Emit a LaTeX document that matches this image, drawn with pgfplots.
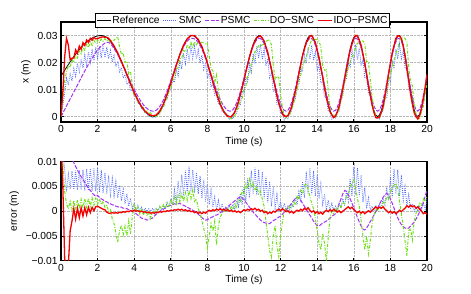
\documentclass[border=0pt]{standalone}
\usepackage{fontspec}
\setmainfont{Liberation Sans}
\usepackage{pgfplots}
\usepackage{pgfplotstable}
\pgfplotsset{compat=1.18}
\definecolor{smcblue}{RGB}{80,105,255}
\definecolor{psmcpurple}{RGB}{165,50,245}
\definecolor{dogreen}{RGB}{110,225,20}
\definecolor{idored}{RGB}{245,0,0}
% position x in mm (1 mm = 0.001 m): t ref smc psmc do ido
\pgfplotstableread{
t ref smc psmc do ido
0.0 15.00 0.00 0.0 0.00 0.0
0.1 16.07 4.07 1.3 6.07 9.0
0.2 17.13 8.63 2.6 13.13 22.0
0.3 18.19 14.19 3.9 16.69 29.0
0.4 19.23 11.73 5.2 18.73 26.5
0.5 20.24 15.74 6.5 18.24 21.0
0.6 21.23 13.13 7.8 21.03 21.6
0.7 22.19 17.79 9.1 19.99 21.69
0.8 23.11 14.91 10.4 22.81 24.71
0.9 23.99 19.69 11.7 21.69 23.39
1.0 24.82 16.52 13.0 24.32 26.12
1.1 25.61 21.31 14.3 23.21 24.91
1.2 26.34 17.94 15.6 25.74 27.34
1.3 27.01 22.81 16.9 24.51 26.31
1.4 27.62 19.12 18.1 26.82 28.32
1.5 28.17 23.97 19.3 25.57 27.37
1.6 28.64 20.04 20.5 27.64 28.94
1.7 29.05 24.95 21.6 26.35 28.25
1.8 29.39 20.69 22.7 28.19 29.29
1.9 29.66 25.66 23.7 27.06 28.76
2.0 29.85 21.05 24.6 28.45 28.85
2.1 29.96 26.06 25.4 27.46 29.16
2.2 30.00 21.70 26.1 28.70 29.40
2.3 29.91 26.21 26.7 27.91 29.51
2.4 29.64 21.84 27.2 28.84 29.34
2.5 29.19 25.69 27.5 27.99 29.39
2.6 28.57 21.37 27.5 28.57 28.97
2.7 27.78 24.48 27.0 27.48 28.18
2.8 26.83 20.23 26.15 28.33 27.13
2.9 25.75 22.65 25.18 28.25 26.15
3.0 24.54 18.54 24.09 29.04 24.84
3.1 23.21 20.51 22.89 29.51 23.61
3.2 21.77 16.57 21.59 25.77 21.97
3.3 20.26 18.16 20.23 23.06 20.56
3.4 18.68 14.28 18.81 23.48 18.78
3.5 17.06 15.56 17.35 20.06 17.26
3.6 15.41 11.91 15.87 20.41 15.41
3.7 13.76 12.76 14.38 15.76 13.86
3.8 12.12 9.52 12.91 16.72 12.02
3.9 10.52 10.02 11.47 11.52 10.52
4.0 8.98 7.38 10.08 7.48 8.78
4.1 7.50 7.30 8.75 7.50 7.50
4.2 6.12 4.92 7.51 5.32 6.02
4.3 4.84 4.74 6.36 5.34 4.94
4.4 3.69 2.89 5.32 3.19 3.69
4.5 2.67 2.67 4.40 3.47 2.87
4.6 1.81 1.21 3.63 1.51 1.91
4.7 1.10 1.10 2.99 2.10 1.40
4.8 0.57 0.07 2.51 0.77 0.77
4.9 0.20 0.20 2.18 1.70 0.60
5.0 0.02 -0.48 2.02 0.02 0.32
5.1 0.04 -0.06 2.04 0.54 0.44
5.2 0.37 -0.23 2.33 -0.23 0.57
5.3 1.02 0.82 2.92 1.02 1.32
5.4 1.97 1.27 3.77 0.97 2.07
5.5 3.21 2.91 4.89 2.81 3.41
5.6 4.71 3.61 6.24 3.41 4.71
5.7 6.44 5.84 7.80 5.84 6.54
5.8 8.35 6.55 9.52 6.75 8.25
5.9 10.41 9.51 11.37 9.41 10.41
6.0 12.57 10.07 13.31 10.37 12.37
6.1 14.78 13.48 15.30 13.58 14.68
6.2 17.00 12.70 17.30 14.20 16.70
6.3 19.17 17.27 19.25 17.67 18.97
6.4 21.25 15.15 21.13 18.05 20.85
6.5 23.20 20.70 22.88 21.40 23.00
6.6 24.96 17.56 24.46 21.46 24.56
6.7 26.51 23.41 25.86 24.51 26.41
6.8 27.80 19.60 27.02 24.00 27.50
6.9 28.82 25.02 27.94 26.62 28.82
7.0 29.53 20.53 28.58 25.33 29.33
7.1 29.92 26.02 28.93 27.42 30.02
7.2 29.98 21.58 28.98 25.68 29.98
7.3 29.71 26.01 28.74 27.71 30.01
7.4 29.10 21.30 28.19 26.60 29.20
7.5 28.17 24.67 27.35 27.67 28.57
7.6 26.94 19.84 26.25 27.44 27.14
7.7 25.45 22.75 24.91 27.45 25.95
7.8 23.71 17.41 23.34 27.21 23.91
7.9 21.77 19.87 21.59 26.77 22.17
8.0 19.68 14.18 19.71 27.18 19.78
8.1 17.48 16.18 17.73 22.48 17.28
8.2 15.23 10.93 15.71 17.73 15.23
8.3 12.97 12.17 13.67 16.97 12.67
8.4 10.76 7.86 11.68 12.76 10.66
8.5 8.64 8.34 9.78 15.44 8.24
8.6 6.67 4.47 8.00 9.67 6.47
8.7 4.89 4.69 6.40 6.09 4.39
8.8 3.33 1.83 5.00 3.83 3.13
8.9 2.05 1.95 3.85 1.75 1.65
9.0 1.06 0.26 2.95 1.26 0.96
9.1 0.38 0.28 2.34 -0.12 0.08
9.2 0.04 -1.06 2.04 0.04 0.04
9.3 0.07 -0.23 2.06 -0.83 -0.13
9.4 0.65 -0.75 2.59 0.35 0.75
9.5 1.79 1.29 3.61 0.29 1.69
9.6 3.45 1.25 5.11 2.65 3.65
9.7 5.55 4.65 7.00 3.05 5.55
9.8 8.02 4.42 9.22 6.02 8.32
9.9 10.76 9.46 11.68 6.56 10.76
10.0 13.67 8.67 14.30 10.17 13.37
10.1 16.63 14.73 16.97 11.13 16.53
10.2 19.52 12.92 19.57 15.02 19.12
10.3 22.24 19.54 22.02 15.74 22.04
10.4 24.68 16.48 24.21 19.68 24.18
10.5 26.74 23.24 26.07 20.94 26.44
10.6 28.35 19.55 27.52 24.15 27.75
10.7 29.43 26.13 28.49 24.43 29.23
10.8 29.95 21.55 28.96 26.45 29.55
10.9 29.88 26.78 28.89 25.88 29.88
11.0 29.12 21.12 28.21 26.62 28.92
11.1 27.71 25.11 26.94 26.71 28.01
11.2 25.72 18.72 25.15 27.72 25.82
11.3 23.24 21.44 22.92 28.24 23.74
11.4 20.37 14.37 20.33 28.37 20.57
11.5 17.25 16.25 17.53 26.55 17.65
11.6 14.03 9.13 14.63 19.03 14.03
11.7 10.86 10.26 11.77 13.86 11.06
11.8 7.88 4.48 9.09 14.88 7.68
11.9 5.22 5.02 6.70 14.42 4.82
12.0 3.02 1.02 4.72 8.02 2.92
12.1 1.37 1.27 3.23 3.37 0.87
12.2 0.35 -1.25 2.32 0.35 0.15
12.3 0.00 -0.20 2.00 -0.50 0.10
12.4 0.41 -0.79 2.37 0.21 0.31
12.5 1.62 1.32 3.46 0.62 1.92
12.6 3.56 1.96 5.20 2.96 3.56
12.7 6.13 5.33 7.52 4.13 6.53
12.8 9.18 6.38 10.26 7.68 9.28
12.9 12.55 11.25 13.30 9.55 12.35
13.0 16.05 12.05 16.45 13.65 16.05
13.1 19.50 17.60 19.55 15.30 19.10
13.2 22.70 16.70 22.43 19.20 22.60
13.3 25.48 22.78 24.93 20.28 24.88
13.4 27.69 19.69 26.92 22.09 27.39
13.5 29.20 25.70 28.28 24.70 28.50
13.6 29.93 21.23 28.94 26.93 29.73
13.7 29.84 26.44 28.86 28.34 30.04
13.8 28.86 20.76 27.97 28.36 28.76
13.9 27.05 23.95 26.35 28.55 27.45
14.0 24.52 17.02 24.07 28.52 24.62
14.1 21.41 18.91 21.27 27.91 21.91
14.2 17.93 12.43 18.14 25.73 18.13
14.3 14.26 12.86 14.83 18.76 14.86
14.4 10.65 7.15 11.59 17.15 10.75
14.5 7.29 6.99 8.56 17.29 7.09
14.6 4.39 2.19 5.95 9.89 4.49
14.7 2.13 1.93 3.92 3.33 1.83
14.8 0.65 -0.95 2.59 0.65 0.65
14.9 0.02 -0.08 2.02 0.52 -0.38
15.0 0.33 -0.67 2.30 -0.27 0.23
15.1 1.63 1.43 3.47 1.43 1.83
15.2 3.85 2.05 5.47 2.65 3.75
15.3 6.83 6.23 8.15 6.03 7.13
15.4 10.37 7.77 11.33 8.57 10.37
15.5 14.22 13.22 14.80 12.72 13.92
15.6 18.12 13.92 18.31 15.12 17.52
15.7 21.81 19.81 21.63 18.31 20.91
15.8 25.04 18.44 24.54 20.04 24.54
15.9 27.58 24.58 26.82 22.08 26.78
16.0 29.27 20.27 28.34 22.97 28.97
16.1 29.98 26.68 28.98 25.48 29.98
16.2 29.66 20.96 28.69 27.16 29.96
16.3 28.31 25.31 27.48 27.31 28.31
16.4 26.02 18.72 25.42 28.02 26.42
16.5 22.96 21.16 22.66 27.96 23.06
16.6 19.33 14.53 19.40 27.13 19.83
16.7 15.40 14.90 15.86 20.40 15.60
16.8 11.44 8.74 12.30 20.04 11.34
16.9 7.73 7.53 8.96 13.73 7.93
17.0 4.53 3.53 6.08 7.03 4.33
17.1 2.08 1.98 3.87 2.88 1.58
17.2 0.53 -0.67 2.48 0.03 -0.37
17.3 0.00 -0.30 2.00 -0.20 -0.50
17.4 0.54 -0.86 2.49 -0.46 -0.26
17.5 2.11 1.61 3.90 1.51 1.51
17.6 4.61 2.01 6.15 2.81 3.71
17.7 7.85 6.55 9.07 6.35 7.45
17.8 11.61 6.81 12.45 8.71 11.51
17.9 15.60 13.50 16.04 13.10 15.90
18.0 19.56 12.56 19.60 15.56 19.56
18.1 23.19 20.39 22.87 18.69 23.59
18.2 26.23 17.73 25.61 20.93 26.33
18.3 28.46 24.96 27.61 22.86 28.96
18.4 29.74 21.34 28.77 25.24 29.94
18.5 29.94 26.84 28.95 27.94 29.74
18.6 28.81 21.51 27.93 29.31 28.91
18.7 26.39 24.19 25.75 29.49 26.09
18.8 22.90 17.90 22.61 28.90 22.30
18.9 18.66 17.56 18.79 27.66 17.56
19.0 14.08 10.78 14.67 18.08 13.28
19.1 9.58 9.18 10.62 13.08 8.38
19.2 5.60 4.10 7.04 11.40 4.70
19.3 2.50 2.50 4.25 4.50 1.40
19.4 0.57 -0.23 2.51 0.97 -0.03
19.5 0.01 0.01 2.01 -0.49 -0.89
19.6 0.85 -0.05 2.77 -0.75 0.45
19.7 3.03 2.83 4.73 1.83 3.03
19.8 6.33 4.63 7.70 3.83 6.83
19.9 10.45 10.05 11.41 8.45 10.75
20.0 15.00 12.50 15.50 12.10 15.60
}\topdata
% tracking error in mm: t esmc epsmc edo eido
\pgfplotstableread{
t esmc epsmc edo eido
0.0 15 15 15 15
0.1 12 15 10 5
0.2 8.5 14.5 4 -9.5
0.3 4.0 14 1.5 -12
0.4 7.5 13 0.5 -11
0.5 4.5 12 2.0 -4
0.6 8.1 10.5 0.2 -2.0
0.7 4.4 9.8 2.2 0.5
0.8 8.2 9.0 0.3 -1.6
0.9 4.3 8.3 2.3 0.6
1.0 8.3 7.6 0.5 -1.3
1.1 4.3 7.0 2.4 0.7
1.2 8.4 6.4 0.6 -1.0
1.3 4.2 5.8 2.5 0.7
1.4 8.5 5.2 0.8 -0.7
1.5 4.2 4.6 2.6 0.8
1.6 8.6 4.2 1.0 -0.3
1.7 4.1 3.7 2.7 0.8
1.8 8.7 3.3 1.2 0.1
1.9 4.0 3.0 2.6 0.9
2.0 8.8 3.2 1.4 1.0
2.1 3.9 2.8 2.5 0.8
2.2 8.3 2.5 1.3 0.6
2.3 3.7 2.3 2.0 0.4
2.4 7.8 2.0 0.8 0.3
2.5 3.5 1.9 1.2 -0.2
2.6 7.2 1.6 0.0 -0.4
2.7 3.3 1.5 0.3 -0.4
2.8 6.6 1.3 -1.5 -0.3
2.9 3.1 1.2 -2.5 -0.4
3.0 6.0 1.0 -4.5 -0.3
3.1 2.7 0.9 -6.3 -0.4
3.2 5.2 0.8 -4.0 -0.2
3.3 2.1 0.8 -2.8 -0.3
3.4 4.4 0.6 -4.8 -0.1
3.5 1.5 0.6 -3.0 -0.2
3.6 3.5 0.5 -5.0 0.0
3.7 1.0 0.3 -2.0 -0.1
3.8 2.6 0.2 -4.6 0.1
3.9 0.5 0.0 -1.0 0.0
4.0 1.6 -0.2 1.5 0.2
4.1 0.2 -0.5 0.0 0.0
4.2 1.2 -0.8 0.8 0.1
4.3 0.1 -1.1 -0.5 -0.1
4.4 0.8 -1.4 0.5 0.0
4.5 0.0 -1.5 -0.8 -0.2
4.6 0.6 -1.6 0.3 -0.1
4.7 0.0 -1.8 -1.0 -0.3
4.8 0.5 -1.7 -0.2 -0.2
4.9 0.0 -1.5 -1.5 -0.4
5.0 0.5 -1.4 0.0 -0.3
5.1 0.1 -1.0 -0.5 -0.4
5.2 0.6 -0.6 0.6 -0.2
5.3 0.2 -0.3 0.0 -0.3
5.4 0.7 0.0 1.0 -0.1
5.5 0.3 0.2 0.4 -0.2
5.6 1.1 0.4 1.3 0.0
5.7 0.6 0.7 0.6 -0.1
5.8 1.8 0.9 1.6 0.1
5.9 0.9 1.1 1.0 0.0
6.0 2.5 1.2 2.2 0.2
6.1 1.3 1.3 1.2 0.1
6.2 4.3 1.5 2.8 0.3
6.3 1.9 1.4 1.5 0.2
6.4 6.1 1.5 3.2 0.4
6.5 2.5 1.6 1.8 0.2
6.6 7.4 1.3 3.5 0.4
6.7 3.1 1.2 2.0 0.1
6.8 8.2 1.0 3.8 0.3
6.9 3.8 0.8 2.2 0.0
7.0 9.0 0.6 4.2 0.2
7.1 3.9 0.4 2.5 -0.1
7.2 8.4 0.2 4.3 0.0
7.3 3.7 0.0 2.0 -0.3
7.4 7.8 -0.3 2.5 -0.1
7.5 3.5 -0.6 0.5 -0.4
7.6 7.1 -1.0 -0.5 -0.2
7.7 2.7 -1.3 -2.0 -0.5
7.8 6.3 -1.6 -3.5 -0.2
7.9 1.9 -1.8 -5.0 -0.4
8.0 5.5 -1.7 -7.5 -0.1
8.1 1.3 -1.5 -5.0 0.2
8.2 4.3 -1.3 -2.5 0.0
8.3 0.8 -1.1 -4.0 0.3
8.4 2.9 -0.8 -2.0 0.1
8.5 0.3 -0.8 -6.8 0.4
8.6 2.2 -0.6 -3.0 0.2
8.7 0.2 -0.3 -1.2 0.5
8.8 1.5 -0.1 -0.5 0.2
8.9 0.1 0.2 0.3 0.4
9.0 0.8 0.5 -0.2 0.1
9.1 0.1 0.8 0.5 0.3
9.2 1.1 1.2 0.0 0.0
9.3 0.3 1.5 0.9 0.2
9.4 1.4 1.8 0.3 -0.1
9.5 0.5 2.1 1.5 0.1
9.6 2.2 2.4 0.8 -0.2
9.7 0.9 2.7 2.5 0.0
9.8 3.6 2.9 2.0 -0.3
9.9 1.3 2.7 4.2 0.0
10.0 5.0 2.3 3.5 0.3
10.1 1.9 1.8 5.5 0.1
10.2 6.6 1.3 4.5 0.4
10.3 2.7 0.8 6.5 0.2
10.4 8.2 0.3 5.0 0.5
10.5 3.5 -0.2 5.8 0.3
10.6 8.8 -0.6 4.2 0.6
10.7 3.3 -1.0 5.0 0.2
10.8 8.4 -1.4 3.5 0.4
10.9 3.1 -1.8 4.0 0.0
11.0 8.0 -2.1 2.5 0.2
11.1 2.6 -2.3 1.0 -0.3
11.2 7.0 -2.4 -2.0 -0.1
11.3 1.8 -2.5 -5.0 -0.5
11.4 6.0 -2.5 -8.0 -0.2
11.5 1.0 -2.2 -9.3 -0.4
11.6 4.9 -1.9 -5.0 0.0
11.7 0.6 -1.7 -3.0 -0.2
11.8 3.4 -1.5 -7.0 0.2
11.9 0.2 -1.2 -9.2 0.4
12.0 2.0 -1.0 -5.0 0.1
12.1 0.1 -0.6 -2.0 0.5
12.2 1.6 -0.2 0.0 0.2
12.3 0.2 0.2 0.5 -0.1
12.4 1.2 0.7 0.2 0.1
12.5 0.3 1.1 1.0 -0.3
12.6 1.6 1.6 0.6 0.0
12.7 0.8 2.1 2.0 -0.4
12.8 2.8 2.5 1.5 -0.1
12.9 1.3 2.8 3.0 0.2
13.0 4.0 2.6 2.4 0.0
13.1 1.9 2.2 4.2 0.4
13.2 6.0 1.6 3.5 0.1
13.3 2.7 1.0 5.2 0.6
13.4 8.0 0.4 5.6 0.3
13.5 3.5 -0.2 4.5 0.7
13.6 8.7 -0.8 3.0 0.2
13.7 3.4 -1.4 1.5 -0.2
13.8 8.1 -2.0 0.5 0.1
13.9 3.1 -2.5 -1.5 -0.4
14.0 7.5 -2.9 -4.0 -0.1
14.1 2.5 -3.0 -6.5 -0.5
14.2 5.5 -2.7 -7.8 -0.2
14.3 1.4 -2.4 -4.5 -0.6
14.4 3.5 -2.2 -6.5 -0.1
14.5 0.3 -2.0 -10.0 0.2
14.6 2.2 -1.7 -5.5 -0.1
14.7 0.2 -1.4 -1.2 0.3
14.8 1.6 -1.0 0.0 0.0
14.9 0.1 -0.8 -0.5 0.4
15.0 1.0 -0.5 0.6 0.1
15.1 0.2 0.5 0.2 -0.2
15.2 1.8 1.5 1.2 0.1
15.3 0.6 2.5 0.8 -0.3
15.4 2.6 3.5 1.8 0.0
15.5 1.0 4.2 1.5 0.3
15.6 4.2 4.0 3.0 0.6
15.7 2.0 3.3 3.5 0.9
15.8 6.6 2.5 5.0 0.5
15.9 3.0 1.6 5.5 0.8
16.0 9.0 0.7 6.3 0.3
16.1 3.3 -0.3 4.5 0.0
16.2 8.7 -1.3 2.5 -0.3
16.3 3.0 -2.2 1.0 0.0
16.4 7.3 -3.0 -2.0 -0.4
16.5 1.8 -3.6 -5.0 -0.1
16.6 4.8 -3.8 -7.8 -0.5
16.7 0.5 -3.4 -5.0 -0.2
16.8 2.7 -2.8 -8.6 0.1
16.9 0.2 -2.1 -6.0 -0.2
17.0 1.0 -1.5 -2.5 0.2
17.1 0.1 -0.8 -0.8 0.5
17.2 1.2 -0.1 0.5 0.9
17.3 0.3 0.6 0.2 0.5
17.4 1.4 1.4 1.0 0.8
17.5 0.5 2.1 0.6 0.6
17.6 2.6 2.8 1.8 0.9
17.7 1.3 3.3 1.5 0.4
17.8 4.8 3.6 2.9 0.1
17.9 2.1 3.2 2.5 -0.3
18.0 7.0 2.5 4.0 0.0
18.1 2.8 1.6 4.5 -0.4
18.2 8.5 0.6 5.3 -0.1
18.3 3.5 -0.4 5.6 -0.5
18.4 8.4 -1.3 4.5 -0.2
18.5 3.1 -2.1 2.0 0.2
18.6 7.3 -2.7 -0.5 -0.1
18.7 2.2 -3.1 -3.1 0.3
18.8 5.0 -3.4 -6.0 0.6
18.9 1.1 -3.5 -9.0 1.1
19.0 3.3 -3.4 -4.0 0.8
19.1 0.4 -3.0 -3.5 1.2
19.2 1.5 -2.6 -5.8 0.9
19.3 0.0 -2.2 -2.0 1.1
19.4 0.8 -1.6 -0.4 0.6
19.5 0.0 -0.9 0.5 0.9
19.6 0.9 -0.1 1.6 0.4
19.7 0.2 0.8 1.2 0.0
19.8 1.7 1.8 2.5 -0.5
19.9 0.4 3.0 2.0 -0.3
20.0 2.5 4.3 2.9 -0.6
}\errdata
\pgfplotsset{
  mystyle/.style={
    scale only axis, width=366bp,
    xmin=0, xmax=20, xtick={0,2,...,20},
    grid=major, major grid style={densely dotted, gray!55, line width=0.5bp},
    axis line style={line width=1.1bp, black},
    tick align=inside, major tick length=3bp,
    tick style={line width=0.8bp, black},
    ticklabel style={font=\fontsize{10.3}{12}\selectfont},
    label style={font=\fontsize{10.3}{12}\selectfont},
    /pgf/number format/assume math mode=true,
    xlabel={Time (s)},
    xlabel style={yshift=3bp},
    every axis plot/.append style={line width=0.8bp},
  },
  smcs/.style={smcblue, dash pattern=on 0.8bp off 1.2bp},
  psmcs/.style={psmcpurple, line width=1.0bp, dash pattern=on 4bp off 1.5bp},
  dos/.style={dogreen, line width=1.0bp, dash pattern=on 3bp off 1.5bp on 0.8bp off 1.5bp},
  idos/.style={idored, line width=1.3bp},
}
\begin{document}
\begin{tikzpicture}
\path[use as bounding box] (0,0) rectangle (471bp,294bp);
\begin{axis}[mystyle,
  at={(61bp,172bp)}, anchor=south west, height=100bp,
  ymin=-2, ymax=35, ytick={0,10,20,30}, yticklabels={0,0.01,0.02,0.03},
  ylabel={x (m)},
  legend style={at={(0.496,1.015)}, anchor=center, legend columns=5,
    font=\fontsize{10.3}{12}\selectfont, draw=black, line width=0.7bp,
    inner xsep=0.5bp, inner ysep=1.2bp, nodes={inner xsep=1.4bp, inner ysep=1.5bp},
    /tikz/every even column/.append style={column sep=1.5bp}},
  legend image code/.code={\draw[#1] (0bp,0bp) -- (14bp,0bp);},
]
\addplot[black, line width=0.8bp] table[x=t, y=ref]{\topdata};
\addlegendentry{Reference}
\addplot[smcs] table[x=t, y=smc]{\topdata};
\addlegendentry{SMC}
\addplot[psmcs] table[x=t, y=psmc]{\topdata};
\addlegendentry{PSMC}
\addplot[dos] table[x=t, y=do]{\topdata};
\addlegendentry{DO−SMC}
\addplot[idos] table[x=t, y=ido]{\topdata};
\addlegendentry{IDO−PSMC}
\end{axis}
\begin{axis}[mystyle,
  at={(61bp,33.3bp)}, anchor=south west, height=99bp,
  ymin=-10, ymax=10, ytick={-10,-5,0,5,10},
  yticklabels={−0.01,−0.005,0,0.005,0.01},
  ylabel={error (m)},
]
\addplot[smcs] table[x=t, y=esmc]{\errdata};
\addplot[psmcs] table[x=t, y=epsmc]{\errdata};
\addplot[dos] table[x=t, y=edo]{\errdata};
\addplot[idos] table[x=t, y=eido]{\errdata};
\end{axis}
\end{tikzpicture}
\end{document}
